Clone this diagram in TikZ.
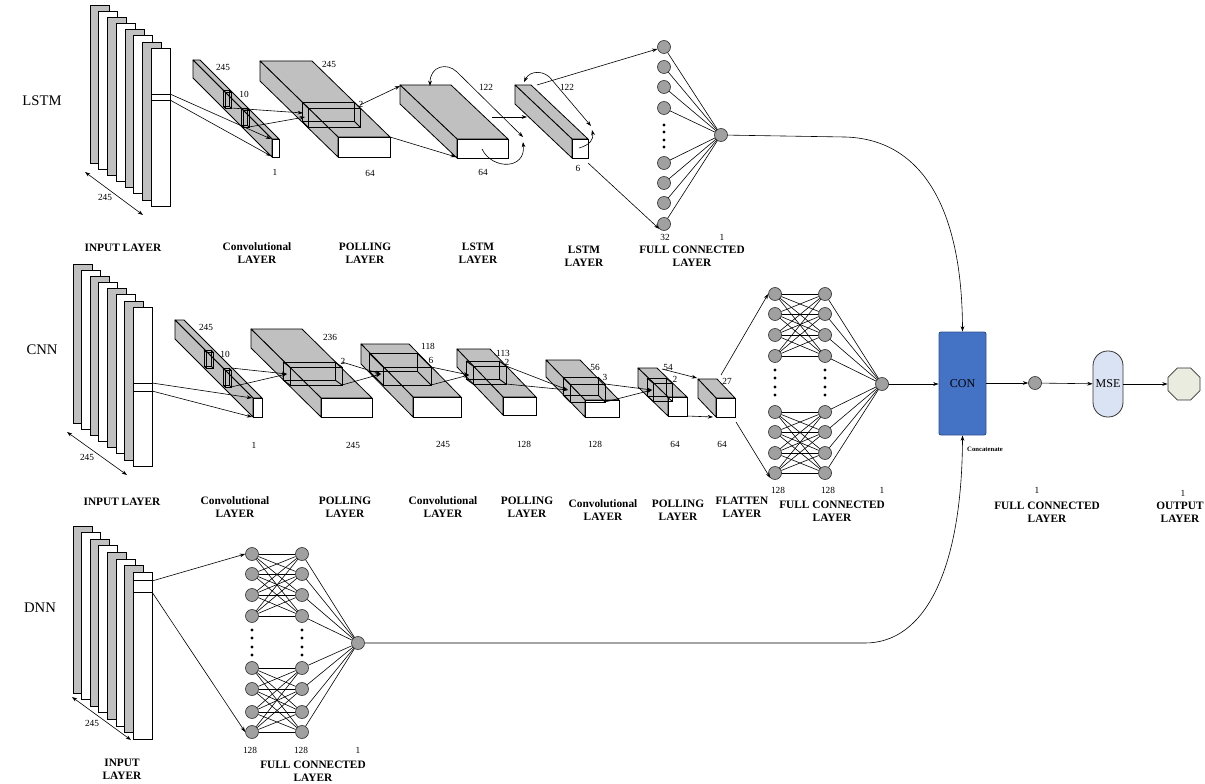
\documentclass[tikz,border=0pt]{standalone}
\usepackage{fontspec}
\setmainfont{Liberation Serif}
\usetikzlibrary{arrows.meta,shapes.geometric}
\definecolor{cubgray}{RGB}{192,192,192}
\definecolor{neugray}{RGB}{160,160,160}
\definecolor{conblue}{RGB}{68,114,196}
\definecolor{conedge}{RGB}{47,82,143}
\definecolor{mseblue}{RGB}{218,227,243}
\definecolor{outgreen}{RGB}{233,236,222}
\newcommand\mycub[6]{%
 \filldraw[cubface] (#1,#2) -- ++(-#5,-#6) -- ++(#3,0) -- ++(#5,#6) -- cycle;
 \filldraw[cubface] (#1,#2) -- ++(-#5,-#6) -- ++(0,#4) -- ++(#5,#6) -- cycle;
 \filldraw[frontface] (#1,#2) rectangle ++(#3,#4);}
\newcommand\mywin[6]{%
 \draw[winline] (#1,#2) rectangle (#3,#4);
 \draw[winline] (#1-#5,#2-#6) rectangle (#3-#5,#4-#6);
 \draw[winline] (#1,#2) -- (#1-#5,#2-#6) (#3,#2) -- (#3-#5,#2-#6)
   (#1,#4) -- (#1-#5,#4-#6) (#3,#4) -- (#3-#5,#4-#6);}
\newcommand\myslabs[5]{%
 \foreach \i/\cc in {0/cubgray,1/white,2/cubgray,3/white,4/cubgray,5/white,6/cubgray,7/white}
   \filldraw[fill=\cc,draw=black,line width=0.5pt] (#1+#3*\i,#2+#4*\i) rectangle ++(19,#5);}
\begin{document}
\begin{tikzpicture}[x=0.75pt,y=-0.75pt,
  cubface/.style={fill=cubgray,draw=black,line width=0.6pt,line join=round},
  frontface/.style={fill=white,draw=black,line width=0.6pt},
  winline/.style={draw=black,line width=0.65pt},
  conn/.style={draw=black,line width=0.45pt},
  arr/.style={draw=black,line width=0.45pt,-{Stealth[length=4pt,width=2.8pt]}},
  darr/.style={draw=black,line width=0.45pt,{Stealth[length=4pt,width=2.8pt]}-{Stealth[length=4pt,width=2.8pt]}},
  neuron/.style={circle,draw=black!80,fill=neugray,minimum size=9.75pt,inner sep=0pt,line width=0.5pt},
  num/.style={font=\fontsize{7}{8}\selectfont,inner sep=0pt},
  lab/.style={font=\bfseries\fontsize{8.5}{10}\selectfont,align=center,inner sep=0pt},
  side/.style={font=\fontsize{11}{13}\selectfont,inner sep=0pt},
  connode/.style={rectangle,rounded corners=1.5pt,fill=conblue,draw=conedge,line width=0.7pt,minimum width=35.25pt,minimum height=77.25pt,inner sep=0pt,font=\fontsize{9}{10}\selectfont},
  msenode/.style={rectangle,rounded corners=11pt,fill=mseblue,draw=black!80,line width=0.6pt,minimum width=22.5pt,minimum height=49.5pt,inner sep=0pt,font=\fontsize{9}{10}\selectfont},
  outnode/.style={regular polygon,regular polygon sides=8,fill=outgreen,draw=black!80,line width=0.6pt,minimum size=26pt,inner sep=0pt}
]
\useasboundingbox (0,0) rectangle (1205,784);

% ================= side labels
\node[side] (tlstm) at (42,101) {LSTM};
\node[side] (tcnn) at (42,350) {CNN};
\node[side] (tdnn) at (40,608) {DNN};

% ================= LSTM row
\myslabs{90}{5}{8.71}{6.14}{158}
\draw[line width=0.5pt] (151,94) rectangle (170,100);
\coordinate (lia) at (85,172); \coordinate (lib) at (143,215);
\draw[darr] (lia) -- (lib);

\mycub{272}{139}{7}{18}{79}{79}
\mywin{225}{92}{231}{108}{2}{2}
\mywin{243}{110}{249}{127}{2}{2}
\mycub{338}{137}{52}{20}{78}{76}
\mywin{308}{108}{360}{127}{6}{6}
\mycub{457}{139}{51}{19}{57}{54}
\mycub{572}{139}{16}{19}{57}{54}

\coordinate (lb1) at (170,94); \coordinate (lb2) at (170,100);
\coordinate (lcf1) at (271,139); \coordinate (lcf2) at (271,156);
\draw[arr] (lb1) -- (lcf1); \draw[arr] (lb2) -- (lcf2);
\coordinate (lk1) at (231,108); \coordinate (lk2) at (249,127);
\coordinate (lpw1) at (303,113); \coordinate (lpw2) at (305,117);
\draw[arr] (lk1) -- (lpw1); \draw[arr] (lk2) -- (lpw2);
\coordinate (lp1) at (360,105); \coordinate (l1a) at (400,86);
\coordinate (lp2) at (390,137); \coordinate (l1b) at (456,157);
\draw[arr] (lp1) -- (l1a); \draw[arr] (lp2) -- (l1b);
\coordinate (l1c) at (492,117); \coordinate (l2c) at (527,117);
\draw[arr] (l1c) -- (l2c);
% loops
\coordinate (lo1s) at (430,86); \coordinate (lo1e) at (523,137);
\draw[darr] (lo1s) .. controls (430,66) and (447,62) .. (457,72) -- (lo1e);
\coordinate (lo1t) at (482,149); \coordinate (lo1u) at (523,142);
\draw[arr] (lo1t) .. controls (492,170) and (526,170) .. (lo1u);
\coordinate (lo2s) at (524,82); \coordinate (lo2e) at (591,126);
\draw[darr] (lo2s) .. controls (530,70) and (545,70) .. (552,80) -- (lo2e);
\coordinate (lo2t) at (579,148); \coordinate (lo2u) at (592,130);
\draw[arr] (lo2t) .. controls (590,145) and (594,139) .. (lo2u);

% FC LSTM
\foreach \y [count=\k] in {47,67,87,108,163,183,203,224}
  \node[neuron] (la\k) at (664,\y) {};
\node[neuron] (lo) at (721,135) {};
\foreach \k in {1,...,8} \draw[conn] (la\k) -- (lo);
\foreach \y in {125,132,140,147} \fill (664,\y) circle (1.3pt);
\coordinate (l2a) at (537,85); \coordinate (l2b) at (588,163);
\draw[arr] (l2a) -- (la1); \draw[arr] (l2b) -- (la8.south west);

% LSTM labels
\node[num] (n1) at (105,197) {245};
\node[num] (n2) at (223,67) {245};
\node[num] (n3) at (244,94) {10};
\node[num] (n4) at (275,172) {1};
\node[num] (n5) at (329,64) {245};
\node[num] (n6) at (361,104) {2};
\node[num] (n7) at (370,173) {64};
\node[num] (n8) at (486,87) {122};
\node[num] (n9) at (483,172) {64};
\node[num] (n10) at (567,87) {122};
\node[num] (n11) at (578,168) {6};
\node[num] (n12) at (665,237) {32};
\node[num] (n13) at (722,237) {1};
\node[lab] (b1) at (123,248) {INPUT LAYER};
\node[lab] (b2) at (257,253) {Convolutional\\LAYER};
\node[lab] (b3) at (365,253) {POLLING\\LAYER};
\node[lab] (b4) at (478,253) {LSTM\\LAYER};
\node[lab] (b5) at (584,256) {LSTM\\LAYER};
\node[lab] (b6) at (692,256) {FULL CONNECTED\\LAYER};

% ================= CNN row
\myslabs{73}{264}{8.57}{6.14}{159}
\draw[line width=0.5pt] (133,383) rectangle (152,391);
\coordinate (cia) at (67,432); \coordinate (cib) at (127,475);
\draw[darr] (cia) -- (cib);

\mycub{253}{398}{9}{19}{78}{78}
\mywin{206}{352}{213}{368}{2}{2}
\mywin{225}{370}{231}{387}{2}{2}
\mycub{321}{398}{51}{19}{70}{69}
\mywin{290}{367}{342}{385}{7}{5}
\mycub{413}{397}{48}{20}{52}{53}
\mywin{383}{367}{431}{385}{14}{14}
\mycub{503}{397}{33}{18}{46}{48}
\mywin{473}{366}{506}{384}{7}{5}
\mycub{585}{400}{34}{17}{39}{40}
\mywin{570}{384}{605}{402}{7}{7}
\mycub{668}{397}{19}{19}{30}{29}
\mywin{653}{383}{672}{401}{6}{5}
\mycub{716}{398}{19}{19}{18}{19}

\coordinate (cb1) at (152,383); \coordinate (cb2) at (152,391);
\coordinate (cc1) at (252,398); \coordinate (cc2) at (252,417);
\draw[arr] (cb1) -- (cc1); \draw[arr] (cb2) -- (cc2);
\coordinate (ck1) at (231,368); \coordinate (ck2) at (231,387); \coordinate (cpw1) at (287,374);
\draw[arr] (ck1) -- (cpw1); \draw[arr] (ck2) -- (cpw1);
\coordinate (cp1a) at (342,362); \coordinate (cp1b) at (342,385); \coordinate (cc2w) at (381,374);
\draw[arr] (cp1a) -- (cc2w); \draw[arr] (cp1b) -- (cc2w);
\coordinate (cc2a) at (431,367); \coordinate (cc2b) at (431,385); \coordinate (cp2w) at (469,375);
\draw[arr] (cc2a) -- (cp2w); \draw[arr] (cc2b) -- (cp2w);
\coordinate (cp2a) at (506,366); \coordinate (cp2b) at (506,384); \coordinate (cc3w) at (568,390);
\draw[arr] (cp2a) -- (cc3w); \draw[arr] (cp2b) -- (cc3w);
\coordinate (cc3a) at (605,384); \coordinate (cc3b) at (605,402); \coordinate (cp3w) at (652,390);
\draw[arr] (cc3a) -- (cp3w); \draw[arr] (cc3b) -- (cp3w);
\coordinate (cp3a) at (662,369); \coordinate (cfa) at (697,378);
\coordinate (cp3b) at (687,416); \coordinate (cfb) at (713,417);
\draw[arr] (cp3a) -- (cfa); \draw[arr] (cp3b) -- (cfb);

% FC CNN
\foreach \y [count=\k] in {294,314,335,356,412,432,453,473}{
  \node[neuron] (ca\k) at (775,\y) {};
  \node[neuron] (cb\k) at (825,\y) {};}
\node[neuron] (co) at (882,384) {};
\foreach \i in {1,...,4} \foreach \j in {1,...,4} \draw[conn] (ca\i) -- (cb\j);
\foreach \i in {5,...,8} \foreach \j in {5,...,8} \draw[conn] (ca\i) -- (cb\j);
\foreach \k in {1,...,8} \draw[conn] (cb\k) -- (co);
\foreach \y in {370,378,387,395} {\fill (775,\y) circle (1.3pt); \fill (825,\y) circle (1.3pt);}
\coordinate (cfo1) at (721,375); \coordinate (cfo2) at (736,422);
\draw[arr] (cfo1) -- (ca1.west); \draw[arr] (cfo2) -- (ca8.south west);

% CNN labels
\node[num] (m1) at (87,457) {245};
\node[num] (m2) at (206,327) {245};
\node[num] (m3) at (225,354) {10};
\node[num] (m4) at (254,445) {1};
\node[num] (m5) at (330,337) {236};
\node[num] (m6) at (343,361) {2};
\node[num] (m7) at (353,445) {245};
\node[num] (m8) at (428,346) {118};
\node[num] (m9) at (431,360) {6};
\node[num] (m10) at (443,444) {245};
\node[num] (m11) at (503,353) {113};
\node[num] (m12) at (507,362) {2};
\node[num] (m13) at (524,444) {128};
\node[num] (m14) at (595,367) {56};
\node[num] (m15) at (605,377) {3};
\node[num] (m16) at (595,444) {128};
\node[num] (m17) at (668,367) {54};
\node[num] (m18) at (675,379) {2};
\node[num] (m19) at (675,444) {64};
\node[num] (m20) at (727,381) {27};
\node[num] (m21) at (722,444) {64};
\node[num] (m22) at (778,490) {128};
\node[num] (m23) at (828,490) {128};
\node[num] (m24) at (882,490) {1};
\node[lab] (c1) at (122,502) {INPUT LAYER};
\node[lab] (c2) at (235,507) {Convolutional\\LAYER};
\node[lab] (c3) at (345,507) {POLLING\\LAYER};
\node[lab] (c4) at (443,507) {Convolutional\\LAYER};
\node[lab] (c5) at (527,507) {POLLING\\LAYER};
\node[lab] (c6) at (603,510) {Convolutional\\LAYER};
\node[lab] (c7) at (678,510) {POLLING\\LAYER};
\node[lab] (c8) at (742,507) {FLATTEN\\LAYER};
\node[lab] (c9) at (832,511) {FULL CONNECTED\\LAYER};

% ================= DNN row
\myslabs{73}{526}{8.57}{6.57}{167}
\draw[line width=0.5pt] (133,580) rectangle (152,592);
\coordinate (dia) at (72,697); \coordinate (dib) at (131,740);
\draw[darr] (dia) -- (dib);
\foreach \y [count=\k] in {554,574,595,616,668,689,712,732}{
  \node[neuron] (da\k) at (252,\y) {};
  \node[neuron] (db\k) at (302,\y) {};}
\node[neuron] (do) at (358,643) {};
\foreach \i in {1,...,4} \foreach \j in {1,...,4} \draw[conn] (da\i) -- (db\j);
\foreach \i in {5,...,8} \foreach \j in {5,...,8} \draw[conn] (da\i) -- (db\j);
\foreach \k in {1,...,8} \draw[conn] (db\k) -- (do);
\foreach \y in {630,638,647,655} {\fill (252,\y) circle (1.3pt); \fill (302,\y) circle (1.3pt);}
\coordinate (db1s) at (152,581); \coordinate (db2s) at (152,592);
\draw[arr] (db1s) -- (da1.west); \draw[arr] (db2s) -- (da8.west);
\node[num] (k1) at (92,723) {245};
\node[num] (k2) at (250,750) {128};
\node[num] (k3) at (301,750) {128};
\node[num] (k4) at (358,750) {1};
\node[lab] (d1) at (122,769) {INPUT\\LAYER};
\node[lab] (d2) at (313,771) {FULL CONNECTED\\LAYER};

% ================= merge part
\node[connode] (con) at (962.5,383.5) {CON};
\node[neuron] (fo) at (1035,383) {};
\node[msenode] (mse) at (1108,384) {MSE};
\node[outnode] (out) at (1184,384) {};
\draw[arr] (co) -- (co -| con.west);
\draw[arr] (con.east |- fo) -- (fo);
\draw[arr] (fo) -- (mse);
\draw[arr] (mse) -- (out);
\coordinate (lbend) at (845,137);
\coordinate (dbend) at (865,643);
\draw[arr] (lo) -- (lbend) .. controls (920,139) and (962,205) .. (con.north);
\draw[arr] (do) -- (dbend) .. controls (925,643) and (962,570) .. (con.south);
\node[font=\bfseries\fontsize{5}{6}\selectfont,inner sep=0pt] (tconc) at (985,449) {Concatenate};
\node[num] (r1) at (1037,490) {1};
\node[lab] (r2) at (1047,512) {FULL CONNECTED\\LAYER};
\node[num] (r3) at (1183,493) {1};
\node[lab] (r4) at (1180,512) {OUTPUT\\LAYER};
\end{tikzpicture}
\end{document}
